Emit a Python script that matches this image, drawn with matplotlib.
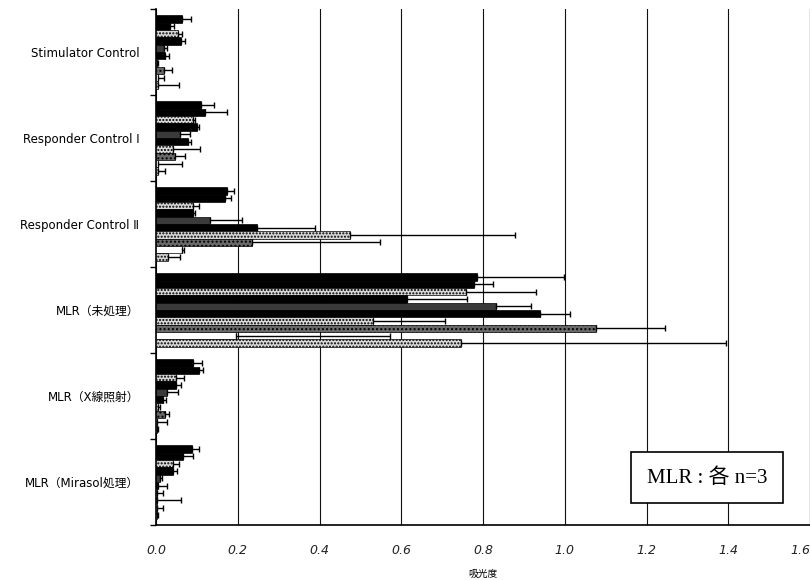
import matplotlib
matplotlib.use("Agg")
import matplotlib.pyplot as plt
import numpy as np

plt.rcParams['font.family'] = ['DejaVu Sans', 'Noto Sans CJK JP']

categories = ["Stimulator Control", "Responder Control Ⅰ", "Responder Control Ⅱ",
              "MLR（未処理）", "MLR（X線照射）", "MLR（Mirasol処理）"]

stim_ctrl_mean = [0.063, 0.035, 0.055, 0.060, 0.020, 0.022, 0.003, 0.020, 0.005, 0.005]
stim_ctrl_err = [0.022, 0.010, 0.008, 0.012, 0.007, 0.011, 0.003, 0.018, 0.015, 0.052]
resp1_mean = [0.109, 0.120, 0.090, 0.100, 0.059, 0.079, 0.042, 0.046, 0.005, 0.005]
resp1_err = [0.033, 0.053, 0.006, 0.005, 0.024, 0.006, 0.066, 0.024, 0.058, 0.017]
resp2_mean = [0.173, 0.168, 0.091, 0.091, 0.132, 0.246, 0.475, 0.234, 0.064, 0.030]
resp2_err = [0.017, 0.015, 0.015, 0.005, 0.078, 0.143, 0.403, 0.314, 0.004, 0.029]
mlr_none_mean = [0.786, 0.778, 0.759, 0.613, 0.832, 0.940, 0.531, 1.076, 0.196, 0.747]
mlr_none_err = [0.211, 0.046, 0.170, 0.147, 0.085, 0.074, 0.175, 0.170, 0.376, 0.648]
mlr_xray_mean = [0.091, 0.106, 0.050, 0.049, 0.026, 0.016, 0.006, 0.022, 0.003, 0.003]
mlr_xray_err = [0.021, 0.010, 0.018, 0.011, 0.029, 0.008, 0.004, 0.011, 0.023, 0.003]
mlr_mira_mean = [0.087, 0.065, 0.042, 0.042, 0.010, 0.006, 0.003, 0.003, 0.003, 0.002]
mlr_mira_err = [0.019, 0.025, 0.015, 0.010, 0.005, 0.020, 0.015, 0.057, 0.015, 0.002]

xticks = [0.0, 0.2, 0.4, 0.6, 0.8, 1.0, 1.2, 1.4, 1.6]
xtick_labels = ["0.0", "0.2", "0.4", "0.6", "0.8", "1.0", "1.2", "1.4", "1.6"]

means = np.array([stim_ctrl_mean, resp1_mean, resp2_mean, mlr_none_mean, mlr_xray_mean, mlr_mira_mean])
errs = np.array([stim_ctrl_err, resp1_err, resp2_err, mlr_none_err, mlr_xray_err, mlr_mira_err])

# series styles (face, hatch)
styles = [("black", None), ("black", None), ("#d8d8d8", "....."), ("black", None),
          ("#3a3a3a", None), ("black", None), ("#d8d8d8", "....."), ("#6a6a6a", "...."),
          ("white", None), ("#d8d8d8", ".....")]

fig = plt.figure(figsize=(8.1, 5.8), dpi=100)
ax = fig.add_axes([156/810, 1-525/580, 1-156/810, (525-9)/580])

n_series = means.shape[1]
h = 0.085
gidx = np.arange(len(categories))
for s in range(n_series):
    face, hatch = styles[s]
    y = gidx + (s - (n_series - 1) / 2) * h
    ax.barh(y, means[:, s], height=h, color=face, edgecolor="black", linewidth=0.5,
            hatch=hatch, zorder=3)
    ax.errorbar(means[:, s], y, xerr=[np.zeros(len(categories)), errs[:, s]],
                fmt="none", ecolor="black", elinewidth=1.0, capsize=2.5, capthick=1.0, zorder=4)

ax.set_ylim(len(categories) - 0.5, -0.5)
ax.set_xlim(0, 1.6)
ax.set_xticks(xticks)
ax.set_xticklabels(xtick_labels, fontstyle="italic", fontsize=9, color="#222222")
ax.get_xticklabels()[-1].set_horizontalalignment("right")
ax.tick_params(axis="x", length=0, pad=14)

ax.set_yticks(np.arange(len(categories) + 1) - 0.5)
ax.set_yticklabels([])
ax.tick_params(axis="y", which="major", length=4, direction="out", width=1)
ax.set_yticks(gidx, minor=True)
ax.set_yticklabels(categories, minor=True, fontsize=8.5,
                   family=['DejaVu Sans', 'Noto Sans CJK JP'])
ax.tick_params(axis="y", which="minor", length=0, pad=12)

ax.grid(axis="x", color="#111111", linewidth=0.8, zorder=0)
ax.spines["top"].set_visible(False)
ax.spines["left"].set_linewidth(1.2)
ax.spines["bottom"].set_linewidth(1.2)
ax.spines["right"].set_linewidth(0.8)

ax.set_xlabel("吸光度", fontsize=7, family=['Noto Sans CJK JP'], labelpad=8)

ax.text(1.348, 4.95, "MLR : 各 n=3", fontsize=15, ha="center", va="center",
        family=['Liberation Serif', 'Noto Sans CJK JP'], zorder=6,
        bbox=dict(boxstyle="square,pad=0.75", facecolor="white", edgecolor="black", linewidth=1.2))

fig.savefig("out.png", dpi=100)
